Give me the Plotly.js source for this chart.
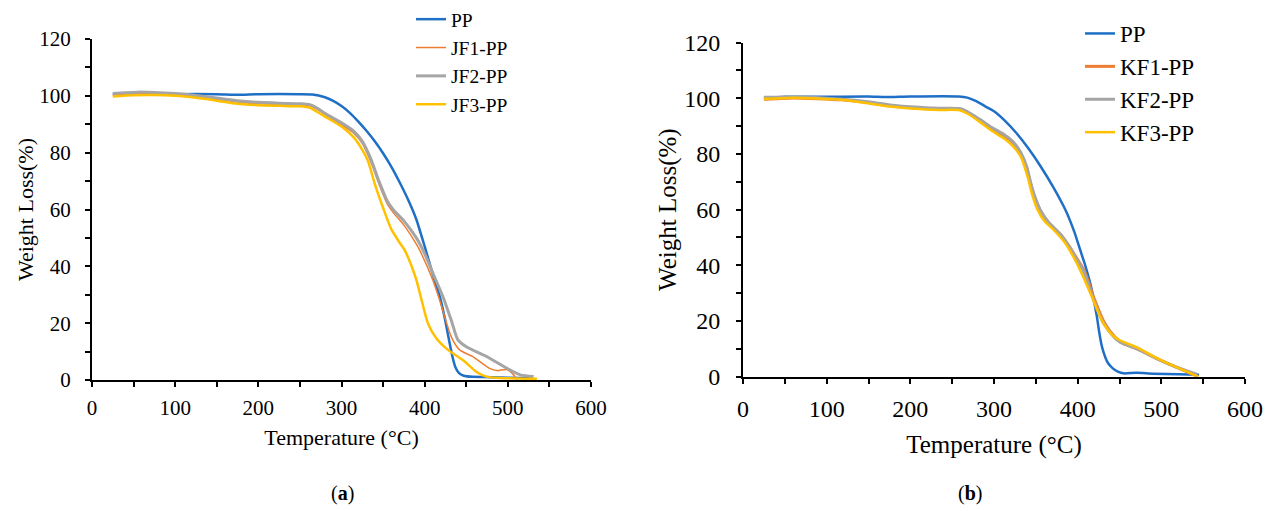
<!DOCTYPE html>
<html>
<head>
<meta charset="utf-8">
<script src="https://cdn.plot.ly/plotly-3.0.1.min.js"></script>
<style>html,body{margin:0;padding:0;background:#fff;}#chart{width:1276px;height:511px;}</style>
</head>
<body>
<div id="chart"></div>
<script>
// ---------- Panel (a) data ----------
const ppA_T = [25,50,100,150,175,200,250,265,280,290,300,310,320,330,340,350,360,370,380,390,400,410,418,424,428,431,434,437,441,447,458,480,500,530];
const ppA_W = [100.6,100.8,100.6,100.6,100.4,100.6,100.6,100.5,99.5,98.2,96.4,94,91,87.7,84,79.8,75,69.5,63.5,56.5,47,37,29.5,22,16,11.5,7.5,4.5,2.5,1.5,1.1,1.0,0.8,0.6];

const jf1_T = [25,55,100,150,175,200,250,262,270,280,300,315,325,335,345,355,362,375,390,394,410,418,432,442,458,478,487,499,507,512,530];
const jf1_W = [100.3,100.8,100.4,98.8,97.8,97.2,96.9,96.5,95.4,93.5,89.8,86.8,83.3,77,69,62,59,54.5,47.8,45.7,35,28.1,15.2,10.6,8.2,4.1,3.3,3.7,1.8,-0.2,0];

const jf2_T = [25,40,55,75,100,125,150,175,200,225,250,262,270,280,290,300,315,325,335,345,355,362,375,390,400,410,422,432,440,450,475,499,515,531];
const jf2_W = [100.8,101.1,101.3,101.2,100.8,100.1,99.2,98.3,97.7,97.4,97.2,96.9,95.8,93.9,92.2,90.5,87.5,84,78,70,63,60,56,50,44.5,37.5,29.3,21,14.1,11.7,8.2,4.1,1.8,1.2];

const jf3_T = [25,50,75,100,125,150,175,200,225,250,262,270,280,300,315,325,332,340,350,360,370,376,385,390,396,404,414,428,446,462,474,490,535];
const jf3_W = [99.8,100.2,100.3,100,99.3,98.3,97.2,96.7,96.5,96.3,95.8,94.5,92.7,89.2,85.3,81,77,69,60.6,53,48.3,45.7,39.5,35.2,28.5,19.9,14.7,10.6,7.0,2.9,1.2,0.7,0.4];

// ---------- Panel (b) data ----------
const ppB_T = [25,50,100,150,170,200,258,268,278,290,300,312,327,341,356,371,386,396,403,409,415,419,423,426,429,433,436,442,448,455,470,490,520,545];
const ppB_W = [100,100.5,100.5,100.6,100.4,100.6,100.6,100.2,99,97,95.3,92.2,87.4,82,75.4,68,59.5,52,45.5,40,33.5,28,21.5,15.5,10.8,7,5,3,1.8,1.2,1.4,1.1,0.9,0.7];

const kf1_T = [25,40,60,118,147,176,205,234,259,268,283,298,312,322,332,339,344,349,356,366,380,390,397,408,420,432,444,452,471,494,518,544];
const kf1_W = [99.6,99.8,100.1,99.4,98.5,97.3,96.5,96.1,96.0,95.0,92.0,89.0,86.5,84.2,80.0,75.0,69.0,64.2,59.2,55.0,50.9,46.8,43.4,38,27.8,19.4,14.4,12.2,10.0,6.6,3.4,0];

const kf2_T = [25,70,118,147,176,205,234,259,268,283,298,312,322,332,339,344,349,356,366,380,390,397,407,419,431,443,451,471,494,518,543];
const kf2_W = [100.3,100.4,99.6,98.8,97.6,96.8,96.4,96.3,95.2,92.4,89.4,87,84.6,80.5,75.5,69.5,64.5,59.5,55.2,51,46.6,43,38,27.5,19.2,14.4,12.4,10,6.6,3.4,0.8];

const kf3_T = [25,40,60,118,147,176,205,234,259,268,283,298,312,322,332,340,346,352,360,372,385,395,405,418,430,442,451,471,494,518,544];
const kf3_W = [99.8,99.9,100.2,99.4,98.3,97.0,96.2,95.8,95.7,94.5,91.5,88.2,85.5,83,79,72,65,60,56,52.5,48,43,37,28,19.5,14.8,13,10.5,6.8,3.4,0];

// ---------- Labels ----------
const namesA = ['PP','JF1-PP','JF2-PP','JF3-PP'];
const namesB = ['PP','KF1-PP','KF2-PP','KF3-PP'];
const colors = ['#1F6FC6','#ED7D31','#A5A5A5','#FFC000'];
const xTitle = 'Temperature (°C)';
const yTitle = 'Weight Loss(%)';
const panelA = '(<b>a</b>)';
const panelB = '(<b>b</b>)';

const W = 1276, H = 511;
const px = v => v / W;
const py = v => (H - v) / H;

const FONT = "'Liberation Serif', 'Times New Roman', serif";

function tr(x, y, name, color, width, xa, ya, leg) {
  return {x: x, y: y, name: name, type: 'scatter', mode: 'lines',
    line: {color: color, width: width, shape: 'spline', smoothing: 0.6},
    xaxis: xa, yaxis: ya, legend: leg, hoverinfo: 'skip'};
}

const data = [
  tr(ppA_T, ppA_W, namesA[0], colors[0], 2.5, 'x', 'y', 'legend'),
  tr(jf1_T, jf1_W, namesA[1], colors[1], 1.5, 'x', 'y', 'legend'),
  tr(jf2_T, jf2_W, namesA[2], colors[2], 3, 'x', 'y', 'legend'),
  tr(jf3_T, jf3_W, namesA[3], colors[3], 2.5, 'x', 'y', 'legend'),
  tr(ppB_T, ppB_W, namesB[0], colors[0], 2.5, 'x2', 'y2', 'legend2'),
  tr(kf1_T, kf1_W, namesB[1], colors[1], 3, 'x2', 'y2', 'legend2'),
  tr(kf2_T, kf2_W, namesB[2], colors[2], 3, 'x2', 'y2', 'legend2'),
  tr(kf3_T, kf3_W, namesB[3], colors[3], 2.5, 'x2', 'y2', 'legend2')
];

function xax(dom, anchor, fs, standoff, tstand) {
  return {domain: dom, anchor: anchor, range: [0, 600], dtick: 100, tick0: 0, showgrid: false, zeroline: false,
    showline: true, linecolor: '#000', linewidth: 2, ticks: 'outside', ticklen: 5, tickwidth: 2, tickcolor: '#000',
    minor: {dtick: 50, ticks: 'outside', ticklen: 5, tickwidth: 2, tickcolor: '#000'},
    tickfont: {family: FONT, size: fs, color: '#000'}, ticklabelstandoff: tstand,
    title: {text: xTitle, font: {family: FONT, size: fs + 1, color: '#000'}, standoff: standoff},
    fixedrange: true};
}
function yax(dom, anchor, fs, standoff, tstand) {
  return {domain: dom, anchor: anchor, range: [0, 120], dtick: 20, tick0: 0, showgrid: false, zeroline: false,
    showline: true, linecolor: '#000', linewidth: 2, ticks: 'outside', ticklen: 5, tickwidth: 2, tickcolor: '#000',
    minor: {dtick: 10, ticks: 'outside', ticklen: 5, tickwidth: 2, tickcolor: '#000'},
    tickfont: {family: FONT, size: fs, color: '#000'}, ticklabelstandoff: tstand,
    title: {text: yTitle, font: {family: FONT, size: fs + 1, color: '#000'}, standoff: standoff},
    fixedrange: true};
}

const layout = {
  width: W, height: H, margin: {l: 0, r: 0, t: 0, b: 0},
  paper_bgcolor: '#fff', plot_bgcolor: '#fff',
  showlegend: true,
  xaxis: xax([px(92), px(591)], 'y', 21, 10, 3),
  yaxis: yax([py(380), py(39)], 'x', 21, 0, 10),
  xaxis2: xax([px(743), px(1245)], 'y2', 24, 15, 4),
  yaxis2: yax([py(376.7), py(42.5)], 'x2', 24, 0, 11),
  legend: {x: px(411), y: py(0), xanchor: 'left', yanchor: 'top', bgcolor: 'rgba(0,0,0,0)',
    font: {family: FONT, size: 19.5, color: '#000'}, tracegroupgap: 0},
  legend2: {x: px(1080), y: py(12), xanchor: 'left', yanchor: 'top', bgcolor: 'rgba(0,0,0,0)',
    font: {family: FONT, size: 23, color: '#000'}, tracegroupgap: 0},
  annotations: [
    {text: panelA, x: px(342), y: py(493), xref: 'paper', yref: 'paper', xanchor: 'center', yanchor: 'middle',
      showarrow: false, font: {family: FONT, size: 20, color: '#000'}},
    {text: panelB, x: px(970), y: py(493), xref: 'paper', yref: 'paper', xanchor: 'center', yanchor: 'middle',
      showarrow: false, font: {family: FONT, size: 20, color: '#000'}}
  ]
};

Plotly.newPlot('chart', data, layout, {staticPlot: true, displayModeBar: false});
</script>
</body>
</html>
